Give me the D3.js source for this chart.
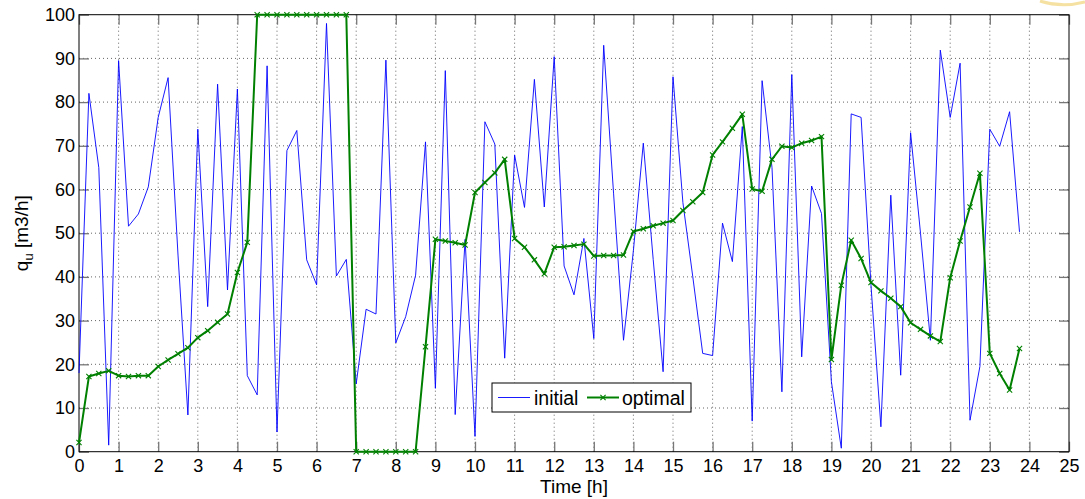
<!DOCTYPE html>
<html>
<head>
<meta charset="utf-8">
<script src="https://cdn.jsdelivr.net/npm/d3@7"></script>
<style>
  html, body { margin: 0; padding: 0; background: #fff; }
  svg { display: block; font-family: "Liberation Sans", Arial, Helvetica, sans-serif; }
</style>
</head>
<body>
<svg id="chart" width="1085" height="499"></svg>
<script>
// Sampling step of both series, in hours
const stepHours = 0.25;

// Initial flow profile q_u [m3/h], one value per quarter hour from 0 h to 23.75 h
const initialFlow = [
  18, 82, 65, 1.5, 89.5, 51.6, 54.4, 60.6, 76.5, 85.6, 45, 8.4,
  73.8, 33.2, 84.1, 37, 83, 17.4, 13, 88.3, 4.5, 68.9, 73.5, 43.9,
  38.2, 98, 40.2, 44, 15.5, 32.6, 31.5, 89.6, 24.9, 30.9, 40.4, 70.9,
  14.5, 87.2, 8.5, 48.6, 3.5, 75.5, 70.4, 21.4, 67.9, 55.9, 85.2, 56,
  90.4, 42.5, 35.9, 48.8, 25.9, 93, 59, 25.5, 46, 70.6, 44, 18.3,
  85.8, 57, 40, 22.5, 22, 52.3, 43.5, 74.4, 7, 84.9, 65, 13.7,
  86.3, 21.7, 60.8, 54.5, 16, 0.8, 77.3, 76.5, 38, 5.7, 58.7, 17.5,
  73, 50, 25.5, 91.9, 76.5, 88.9, 7.2, 19.5, 73.8, 69.9, 77.8, 50.3
];

// Optimal flow profile q_u [m3/h], same time grid
const optimalFlow = [
  2.1, 17.2, 17.9, 18.5, 17.4, 17.2, 17.4, 17.4, 19.5, 21, 22.4, 23.8,
  26.1, 27.7, 29.6, 31.5, 41, 47.9, 100, 100, 100, 100, 100, 100,
  100, 100, 100, 100, 0, 0, 0, 0, 0, 0, 0, 24,
  48.6, 48.2, 47.8, 47.3, 59.3, 61.6, 63.8, 66.9, 48.8, 46.8, 43.9, 40.7,
  46.8, 46.9, 47.2, 47.5, 44.8, 44.9, 44.9, 45, 50.4, 51, 51.7, 52.3,
  52.9, 55.2, 57.2, 59.3, 67.9, 70.9, 74, 77.2, 60.1, 59.6, 66.9, 69.9,
  69.6, 70.6, 71.2, 72.1, 21.1, 38.1, 48.4, 44.2, 38.7, 36.8, 35.1, 33.2,
  29.5, 28, 26.5, 25.2, 39.8, 48.2, 56, 63.7, 22.5, 17.9, 14.1, 23.6
];

// Axis tick values
const xTicks = [0, 1, 2, 3, 4, 5, 6, 7, 8, 9, 10, 11, 12, 13, 14, 15, 16, 17, 18, 19, 20, 21, 22, 23, 24, 25];
const yTicks = [0, 10, 20, 30, 40, 50, 60, 70, 80, 90, 100];

// Legend entries
const seriesNames = ["initial", "optimal"];

const svg = d3.select("#chart");
const plot = { left: 79, right: 1069, top: 14.7, bottom: 451.7 };

const x = d3.scaleLinear().domain([0, 25]).range([plot.left, plot.right]);
const y = d3.scaleLinear().domain([0, 100]).range([plot.bottom, plot.top]);

const toPoints = vals => vals.map((v, i) => ({ t: i * stepHours, v }));
const initialPts = toPoints(initialFlow);
const optimalPts = toPoints(optimalFlow);

// Dotted grid
const grid = svg.append("g").attr("class", "grid");
grid.selectAll("line.gx").data(xTicks.slice(1, -1)).join("line")
  .attr("x1", d => x(d)).attr("x2", d => x(d))
  .attr("y1", plot.top).attr("y2", plot.bottom)
  .attr("stroke", "#333").attr("stroke-width", 1)
  .attr("stroke-dasharray", "1,3").attr("opacity", 0.75);
grid.selectAll("line.gy").data(yTicks.slice(1, -1)).join("line")
  .attr("x1", plot.left).attr("x2", plot.right)
  .attr("y1", d => y(d)).attr("y2", d => y(d))
  .attr("stroke", "#333").attr("stroke-width", 1)
  .attr("stroke-dasharray", "1,3").attr("opacity", 0.75);

// Axes with inward ticks on all four sides
const tickLen = 10;
const styleAxis = g => {
  g.select(".domain").remove();
  g.selectAll(".tick line").attr("stroke", "#777").attr("stroke-width", 1.3);
  g.selectAll(".tick text").attr("fill", "#000").attr("font-size", 18)
    .attr("font-family", "Liberation Sans, Arial, sans-serif");
};

svg.append("g").attr("transform", `translate(0,${plot.bottom})`)
  .call(d3.axisBottom(x).tickValues(xTicks).tickFormat(d3.format("d"))
    .tickSizeInner(-tickLen).tickSizeOuter(0).tickPadding(8))
  .call(styleAxis);
svg.append("g").attr("transform", `translate(0,${plot.top})`)
  .call(d3.axisTop(x).tickValues(xTicks).tickFormat("")
    .tickSizeInner(-tickLen).tickSizeOuter(0))
  .call(styleAxis);
svg.append("g").attr("transform", `translate(${plot.left},0)`)
  .call(d3.axisLeft(y).tickValues(yTicks).tickFormat(d3.format("d"))
    .tickSizeInner(-tickLen).tickSizeOuter(0).tickPadding(4))
  .call(styleAxis);
svg.append("g").attr("transform", `translate(${plot.right},0)`)
  .call(d3.axisRight(y).tickValues(yTicks).tickFormat("")
    .tickSizeInner(-tickLen).tickSizeOuter(0))
  .call(styleAxis);

// Plot box
svg.append("rect")
  .attr("x", plot.left).attr("y", plot.top)
  .attr("width", plot.right - plot.left).attr("height", plot.bottom - plot.top)
  .attr("fill", "none").attr("stroke", "#000").attr("stroke-width", 1);

// Series
const line = d3.line().x(d => x(d.t)).y(d => y(d.v));

svg.append("path").datum(initialPts)
  .attr("d", line).attr("fill", "none")
  .attr("stroke", "#0000ff").attr("stroke-width", 0.9);

svg.append("path").datum(optimalPts)
  .attr("d", line).attr("fill", "none")
  .attr("stroke", "#008000").attr("stroke-width", 2).attr("stroke-linejoin", "round");

const m = 2.6;
const crossPath = (cx, cy) => `M${cx - m},${cy - m}L${cx + m},${cy + m}M${cx - m},${cy + m}L${cx + m},${cy - m}`;
svg.append("g").selectAll("path").data(optimalPts).join("path")
  .attr("d", d => crossPath(x(d.t), y(d.v)))
  .attr("stroke", "#008000").attr("stroke-width", 1.1).attr("fill", "none");

// Legend
const lg = svg.append("g").attr("transform", "translate(492,383)");
lg.append("rect").attr("width", 199).attr("height", 29)
  .attr("fill", "#fff").attr("stroke", "#000").attr("stroke-width", 1);
lg.append("line").attr("x1", 6).attr("x2", 38).attr("y1", 14.5).attr("y2", 14.5)
  .attr("stroke", "#0000ff").attr("stroke-width", 0.9);
lg.append("text").attr("x", 42).attr("y", 21.5).attr("font-size", 19.5).text(seriesNames[0]);
lg.append("line").attr("x1", 95).attr("x2", 127).attr("y1", 14.5).attr("y2", 14.5)
  .attr("stroke", "#008000").attr("stroke-width", 2);
lg.append("path").attr("d", crossPath(111, 14.5))
  .attr("stroke", "#008000").attr("stroke-width", 1.1);
lg.append("text").attr("x", 130).attr("y", 21.5).attr("font-size", 19.5).text(seriesNames[1]);

// Axis labels
svg.append("text")
  .attr("x", x(12.5)).attr("y", 493)
  .attr("text-anchor", "middle").attr("font-size", 19)
  .text("Time [h]");

const yl = svg.append("text")
  .attr("transform", `translate(28,${(plot.top + plot.bottom) / 2}) rotate(-90)`)
  .attr("text-anchor", "middle").attr("font-size", 19);
yl.append("tspan").text("q");
yl.append("tspan").attr("font-size", 13).attr("dy", 5).text("u");
yl.append("tspan").attr("dy", -5).text(" [m3/h]");

// Decorative arc in the top right corner
svg.append("path")
  .attr("d", "M1040,1 Q1062,8 1085,2")
  .attr("fill", "none").attr("stroke", "#f2d98a").attr("stroke-width", 3).attr("opacity", 0.8);
</script>
</body>
</html>
